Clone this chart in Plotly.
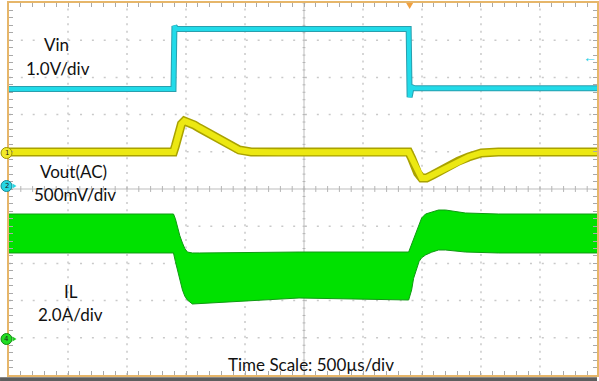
import plotly.graph_objects as go

# ---- data (time in ms, amplitude in screen divisions) ----
vin_t = [0.0, 1.394, 1.402, 1.419, 3.387, 3.395, 3.412, 3.437, 5.0]
vin_y = [7.69, 7.69, 9.38, 9.30, 9.30, 7.47, 7.74, 7.71, 7.71]

vout_t = [0.0, 1.394, 1.410, 1.436, 1.461, 1.486, 1.520, 1.571, 1.613, 1.672, 1.740,
          1.799, 1.867, 1.951, 2.052, 2.289, 3.387, 3.412, 3.437, 3.463, 3.497, 3.539,
          3.590, 3.657, 3.733, 3.809, 3.894, 4.003, 4.147, 5.0]
vout_y = [5.995, 5.995, 6.156, 6.532, 6.747, 6.828, 6.801, 6.720, 6.640, 6.532, 6.398,
          6.290, 6.156, 6.048, 5.995, 5.985, 5.995, 5.833, 5.618, 5.430, 5.296, 5.296,
          5.376, 5.511, 5.645, 5.753, 5.860, 5.968, 5.995, 5.995]

il_t = [0.0, 1.394, 1.410, 1.427, 1.448, 1.470, 1.490, 1.512, 1.554, 1.613, 1.892,
        2.458, 3.387, 3.400, 3.412, 3.429, 3.454, 3.475, 3.497, 3.530, 3.581, 3.640,
        3.700, 3.868, 4.147, 5.0]
il_upper = [4.328, 4.328, 4.200, 3.978, 3.740, 3.548, 3.400, 3.306, 3.280, 3.280, 3.290,
            3.306, 3.306, 3.420, 3.495, 3.629, 3.844, 4.032, 4.220, 4.328, 4.382, 4.435,
            4.435, 4.355, 4.328, 4.328]
il_lower = [3.280, 3.280, 3.050, 2.823, 2.530, 2.285, 2.120, 2.016, 1.909, 1.920, 1.962,
            2.070, 2.016, 2.150, 2.285, 2.600, 2.876, 3.050, 3.150, 3.226, 3.300, 3.360,
            3.360, 3.306, 3.280, 3.280]

labels = ["Vin", "1.0V/div", "Vout(AC)", "500mV/div", "IL", "2.0A/div",
          "Time Scale: 500\u00b5s/div"]

# ---- layout geometry ----
W, H = 599, 381
L, T = 9, 3
PW, PH = 592.0, 372.0          # full 10x10 division graticule
DX, DY = PW / 10, PH / 10
XMAX = (W - L) / DX * 0.5       # visible ms
VW = W - L                      # visible plot width in px
def px_t(px):
    return (px - L) / DX * 0.5
def py_y(py):
    return (T + PH - py) / DY
def ppx(px):
    return (px - L) / VW
def ppy(py):
    return (T + PH - py) / PH

fig = go.Figure()

# IL band
fig.add_trace(go.Scatter(x=il_t, y=il_lower, mode="lines",
                         line=dict(color="#0f9a12", width=1),
                         hoverinfo="skip", showlegend=False))
fig.add_trace(go.Scatter(x=il_t, y=il_upper, mode="lines", fill="tonexty",
                         fillcolor="#00e100",
                         line=dict(color="#0f9a12", width=1),
                         hoverinfo="skip", showlegend=False))

# Vout
fig.add_trace(go.Scatter(x=vout_t, y=vout_y, mode="lines",
                         line=dict(color="#a9a200", width=9),
                         hoverinfo="skip", showlegend=False))
fig.add_trace(go.Scatter(x=vout_t, y=vout_y, mode="lines",
                         line=dict(color="#ece812", width=6),
                         hoverinfo="skip", showlegend=False))

# Vin
fig.add_trace(go.Scatter(x=vin_t, y=vin_y, mode="lines",
                         line=dict(color="#2a9fae", width=6),
                         hoverinfo="skip", showlegend=False))
fig.add_trace(go.Scatter(x=vin_t, y=vin_y, mode="lines",
                         line=dict(color="#22dbe9", width=4),
                         hoverinfo="skip", showlegend=False))

shapes = []
grid_col = "#c9c9c9"
for k in range(1, 10):
    if k == 5:
        continue
    shapes.append(dict(type="line", xref="x", yref="y", x0=0, x1=5, y0=k, y1=k,
                       line=dict(color=grid_col, width=1.5, dash="2px,%.2fpx" % (DX / 5 - 2)),
                       layer="below"))
for k in range(1, 10):
    if k == 5:
        continue
    shapes.append(dict(type="line", xref="x", yref="y", x0=k * 0.5, x1=k * 0.5, y0=0, y1=10,
                       line=dict(color=grid_col, width=1.5, dash="2px,%.2fpx" % (DY / 5 - 2)),
                       layer="below"))
shapes.append(dict(type="line", xref="x", yref="y", x0=0, x1=5, y0=5, y1=5,
                   line=dict(color="#bdbdbd", width=1), layer="below"))
shapes.append(dict(type="line", xref="x", yref="y", x0=2.5, x1=2.5, y0=0, y1=10,
                   line=dict(color="#bdbdbd", width=1), layer="below"))
for i in range(51):
    x = i * 0.1
    shapes.append(dict(type="line", xref="x", yref="y", x0=x, x1=x, y0=5 - 0.08, y1=5 + 0.08,
                       line=dict(color="#b5b5b5", width=1), layer="below"))
for i in range(51):
    y = i * 0.2
    shapes.append(dict(type="line", xref="x", yref="y", x0=2.5 - 0.012, x1=2.5 + 0.012,
                       y0=y, y1=y, line=dict(color="#b5b5b5", width=1), layer="below"))
# dark strip at bottom of window
shapes.append(dict(type="rect", xref="paper", yref="paper", x0=-L / VW, x1=1,
                   y0=-(H - T - PH) / PH, y1=-2.2 / PH,
                   fillcolor="#5e5e5e", line=dict(width=0), layer="above"))

# channel marker circles (paper coords so they may sit over the frame)
chan = [("1", 153, "#f2ea2a", "#9a9200"), ("2", 186, "#28d6e4", "#168a96"),
        ("4", 339, "#22dd22", "#128a12")]
r = 5.5
for lab, py, fc, lc in chan:
    shapes.append(dict(type="circle", xref="paper", yref="paper",
                       x0=ppx(6.5 - r), x1=ppx(6.5 + r), y0=ppy(py + r), y1=ppy(py - r),
                       fillcolor=fc, line=dict(color=lc, width=1), layer="above"))
# small channel arrows
for py, fc in [(186, "#28d6e4"), (339, "#22cc22")]:
    shapes.append(dict(type="path", xref="paper", yref="paper",
                       path="M %f %f L %f %f L %f %f Z" % (ppx(12.5), ppy(py - 2.5),
                                                           ppx(16.5), ppy(py),
                                                           ppx(12.5), ppy(py + 2.5)),
                       fillcolor=fc, line=dict(width=0), layer="above"))
# trigger marker at top
shapes.append(dict(type="path", xref="paper", yref="paper",
                   path="M %f %f L %f %f L %f %f Z" % (ppx(407.5), ppy(3),
                                                       ppx(414.5), ppy(3),
                                                       ppx(411), ppy(9)),
                   fillcolor="#f0a040", line=dict(width=0), layer="above"))
fig.update_layout(shapes=shapes)

for lab, py, fc, lc in chan:
    fig.add_annotation(xref="paper", yref="paper", x=ppx(6.5), y=ppy(py), text=lab,
                       showarrow=False, xanchor="center", yanchor="middle",
                       font=dict(family="DejaVu Sans", size=7, color="#222222"))

# text labels
font = dict(family="Lato, Open Sans, sans-serif", size=17, color="#111111")
pos = [(57, 44), (58, 68), (74, 171), (75, 194), (71, 291), (71, 314), (312, 364)]
for txt, (px, py) in zip(labels, pos):
    fig.add_annotation(x=px_t(px), y=py_y(py), text=txt, showarrow=False,
                       xanchor="center", yanchor="middle", font=font)

# right-side cyan arrow
fig.add_annotation(xref="paper", yref="paper", x=ppx(592), y=ppy(57), text="\u2190",
                   showarrow=False, xanchor="center", yanchor="middle",
                   font=dict(size=14, color="#22d0e6"))

axis_common = dict(showgrid=False, zeroline=False, showticklabels=False,
                   showline=True, linecolor="#e6b66a", linewidth=2, mirror="ticks",
                   ticks="inside", ticklen=4, tickcolor="#a9a9a9", tickwidth=1)
fig.update_xaxes(range=[0, XMAX], tick0=0, dtick=0.1, **axis_common)
fig.update_yaxes(range=[0, 10], tick0=0, dtick=0.2, **axis_common)

fig.update_layout(width=W, height=H, margin=dict(l=L, r=0, t=T, b=H - T - int(PH)),
                  paper_bgcolor="white", plot_bgcolor="white", showlegend=False)

fig.write_html("out.html")
